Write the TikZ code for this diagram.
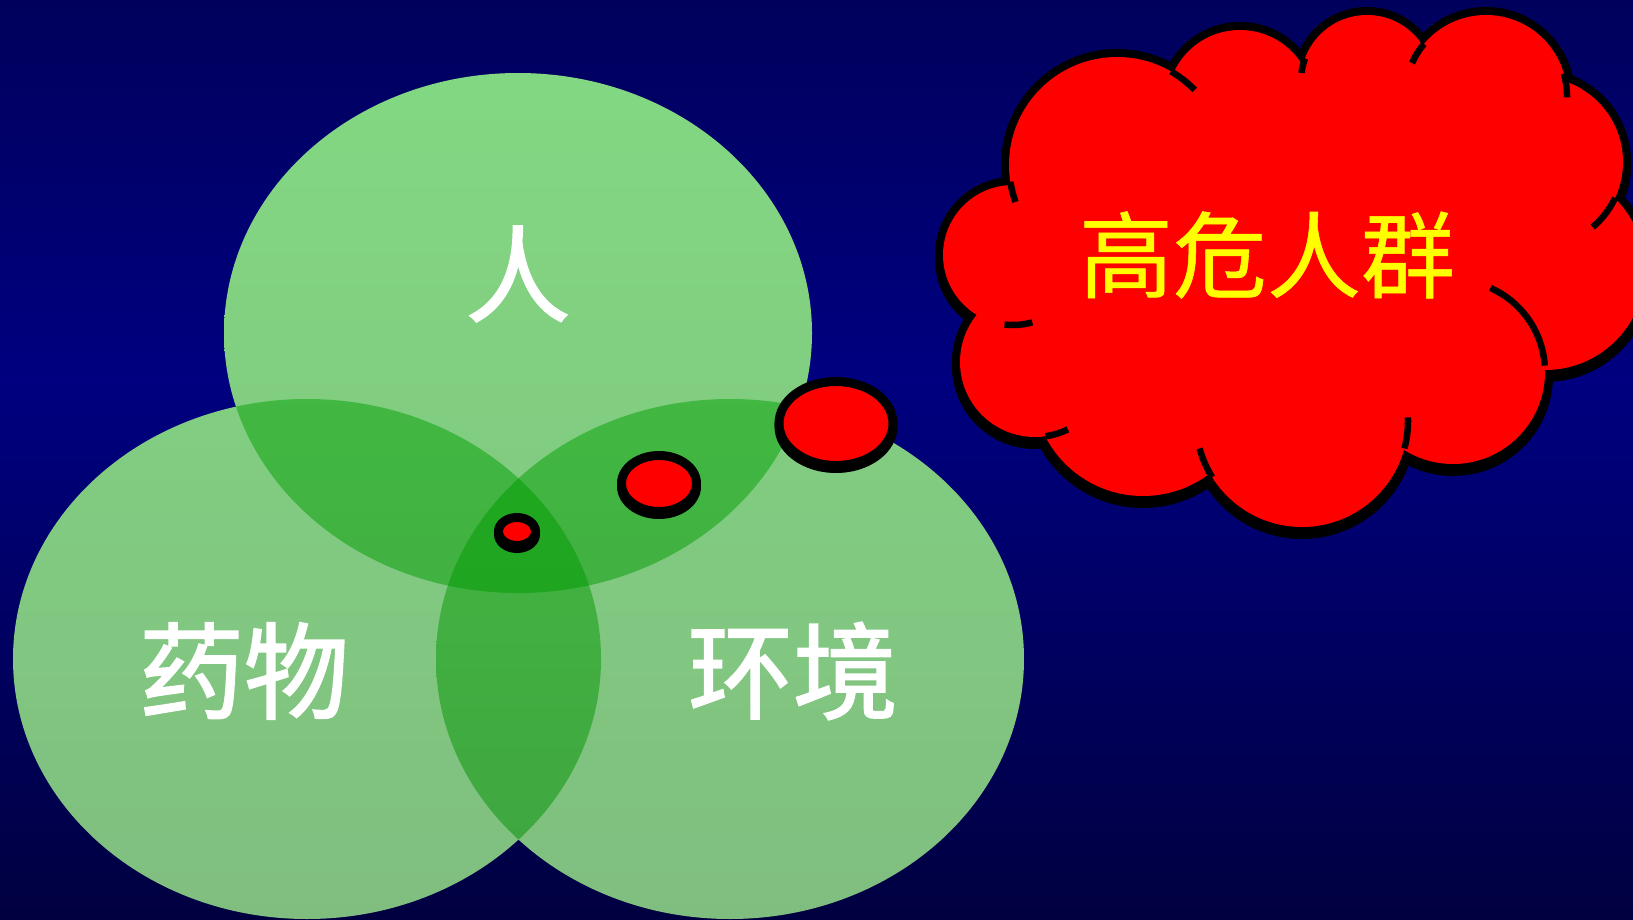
\documentclass[tikz,border=0pt]{standalone}
\usepackage{fontspec}
\newfontfamily\cjk{Noto Sans CJK SC}
\newfontfamily\cjkb{Noto Sans CJK SC}[FakeBold=1.6]
\newfontfamily\cjky{Noto Sans CJK SC}[FakeBold=0.6]
\usetikzlibrary{calc}
\definecolor{bgtop}{RGB}{0,0,92}
\definecolor{bgmid}{RGB}{0,0,128}
\definecolor{bgbot}{RGB}{0,0,64}
\definecolor{ltop}{RGB}{130,216,130}
\definecolor{lbot}{RGB}{128,190,128}
\definecolor{dtop}{RGB}{66,196,66}
\definecolor{dbot}{RGB}{64,164,64}
\definecolor{ttop}{RGB}{34,176,34}
\definecolor{tbot}{RGB}{30,158,30}
\definecolor{cloudred}{RGB}{255,0,0}
\definecolor{cloudtext}{RGB}{255,255,0}
\newcommand\cloudarc[5]{\draw[inarc] ($(#1,#2)+(#4:#3)$) arc[start angle=#4, end angle=#5, radius=#3];}
\begin{document}
\begin{tikzpicture}[x=1pt,y=-1pt,
  Tcirc/.style={insert path={(518,333) ellipse [x radius=294, y radius=260]}},
  Lcirc/.style={insert path={(307,659) ellipse [x radius=294, y radius=260]}},
  Rcirc/.style={insert path={(730,659) ellipse [x radius=294, y radius=260]}},
  lightfill/.style={top color=ltop, bottom color=lbot},
  darkfill/.style={top color=dtop, bottom color=dbot},
  triplefill/.style={top color=ttop, bottom color=tbot},
  txtw/.style={text=white, font=\cjkb\fontsize{105}{105}\selectfont, inner sep=0pt},
  txty/.style={text=cloudtext, font=\cjky\fontsize{94}{94}\selectfont, inner sep=0pt},
  inarc/.style={draw=black, line width=6.5},
  cloudline/.style={black, line width=16},
  bubble/.style={draw=black, line width=9, fill=cloudred}]
\useasboundingbox (0,0) rectangle (1633,920);
% background
\shade[top color=bgtop, bottom color=bgmid] (0,0) rectangle (1633,381);
\shade[top color=bgmid, bottom color=bgbot] (0,380) rectangle (1633,920);
% light circles
\foreach \c in {Tcirc,Lcirc,Rcirc}{
  \begin{scope}
    \clip[\c];
    \shade[lightfill] (0,73) rectangle (1633,920);
  \end{scope}
}
% pairwise overlaps
\begin{scope}\clip[Tcirc];\clip[Lcirc];\shade[darkfill] (0,73) rectangle (1633,920);\end{scope}
\begin{scope}\clip[Tcirc];\clip[Rcirc];\shade[darkfill] (0,73) rectangle (1633,920);\end{scope}
\begin{scope}\clip[Lcirc];\clip[Rcirc];\shade[darkfill] (0,73) rectangle (1633,920);\end{scope}
% triple overlap
\begin{scope}\clip[Tcirc];\clip[Lcirc];\clip[Rcirc];\shade[triplefill] (0,73) rectangle (1633,920);\end{scope}
% labels in circles
\node[txtw] (ren) at (518,274) {人};
\node[txtw] (yaowu) at (244,671) {药物};
\node[txtw] (huanjing) at (793,671) {环境};
% thought bubbles
\fill[black] (517,534.5) ellipse [x radius=23, y radius=18.5];
\path[bubble] (517,531.5) ellipse [x radius=18.5, y radius=14];
\fill[black] (659,486.5) ellipse [x radius=42, y radius=32.5];
\path[bubble] (659,483.5) ellipse [x radius=37.5, y radius=28];
\fill[black] (836,426.5) ellipse [x radius=61.5, y radius=46.5];
\path[bubble] (836,423.5) ellipse [x radius=57, y radius=42];
% cloud: shadow
\begin{scope}[shift={(0,4)}]
\foreach \cx/\cy/\r in {1117/165/108, 1240/103/73, 1367/81/66, 1486/96/81, 1538/162/85, 1545/270/100, 1453/372/92, 1302/421/106, 1143/386/110, 1035/362/75, 1013/255/70}{
  \filldraw[cloudline] (\cx,\cy) circle [radius=\r];
}
\end{scope}
% cloud: outline
\foreach \cx/\cy/\r in {1117/165/108, 1240/103/73, 1367/81/66, 1486/96/81, 1538/162/85, 1545/270/100, 1453/372/92, 1302/421/106, 1143/386/110, 1035/362/75, 1013/255/70}{
  \draw[cloudline] (\cx,\cy) circle [radius=\r];
}
% cloud: red body
\foreach \cx/\cy/\r in {1117/165/108, 1240/103/73, 1367/81/66, 1486/96/81, 1538/162/85, 1545/270/100, 1453/372/92, 1302/421/106, 1143/386/110, 1035/362/75, 1013/255/70}{
  \fill[cloudred] (\cx,\cy) circle [radius=\r];
}
\fill[cloudred] (1270,260) ellipse [x radius=250, y radius=170];
% cloud: inner arcs
\cloudarc{1117}{165}{108}{160}{171}
\cloudarc{1117}{165}{108}{-60}{-44}
\cloudarc{1367}{81}{66}{187}{200}
\cloudarc{1486}{96}{81}{204}{220}
\cloudarc{1486}{96}{81}{-16}{1}
\cloudarc{1538}{162}{85}{25}{50}
\cloudarc{1453}{372}{92}{-66}{-4}
\cloudarc{1302}{421}{106}{-2}{15}
\cloudarc{1302}{421}{106}{148}{165}
\cloudarc{1035}{362}{75}{64}{82}
\cloudarc{1013}{255}{70}{74}{97}
% cloud text
\node[txty] (gaowei) at (1267,255) {高危人群};
\end{tikzpicture}
\end{document}
